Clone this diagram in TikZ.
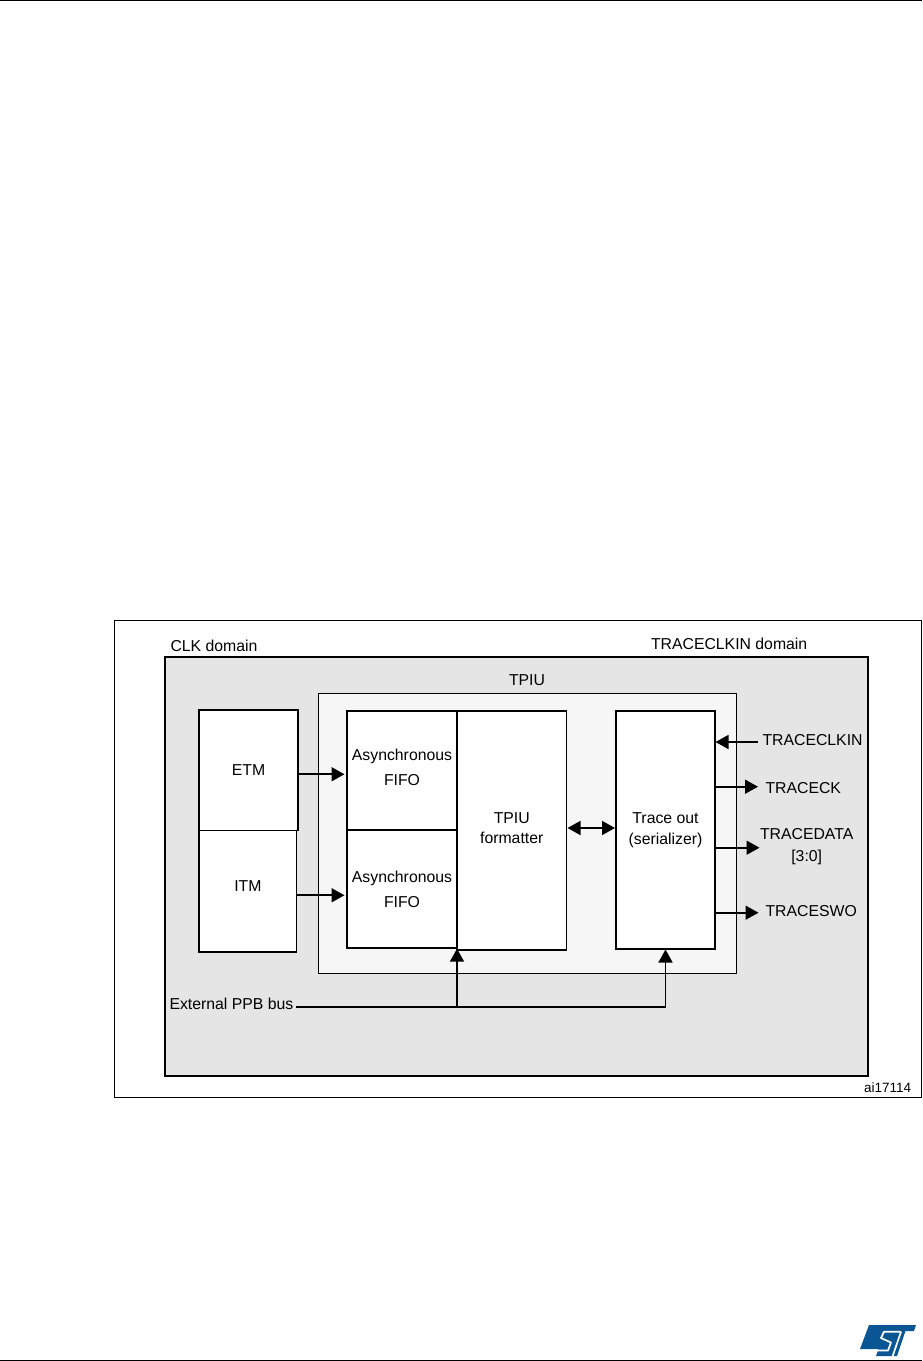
\documentclass[tikz,border=0pt]{standalone}
\usepackage{fontspec}
\setmainfont{Liberation Sans}
\usepackage{xcolor}
\usetikzlibrary{arrows.meta,positioning}
\definecolor{domaingray}{HTML}{E5E5E5}
\definecolor{tpiugray}{HTML}{F6F6F6}
\definecolor{stblue}{HTML}{0A5694}

\begin{document}
\begin{tikzpicture}[
  x=1pt, y=-1pt, font=\fontsize{15.8}{19}\selectfont,
  b/.style={draw, line width=1.5pt, fill=white, align=center, inner sep=0pt, outer sep=0pt, anchor=north west},
  area/.style={draw, inner sep=0pt, outer sep=0pt, anchor=north west},
  lbl/.style={inner sep=0pt, outer sep=0pt, align=center},
  pf/.style={line width=1.6pt, shorten >=0.5pt, -{Triangle[length=13pt,width=14pt]}}
]
\useasboundingbox (0,0) rectangle (922,1361);
\draw[line width=1pt] (0,0.5) -- (922,0.5);
\draw[line width=1pt] (0,1360) -- (922,1360);

\node[area, line width=0.8pt, minimum width=806.5pt, minimum height=477pt] (fig) at (114.5,620) {};
\node[area, line width=1.5pt, fill=domaingray, minimum width=703pt, minimum height=419pt] (clk) at (165,657) {};
\node[area, line width=0.7pt, fill=tpiugray, minimum width=418pt, minimum height=279.5pt] (tpiu) at (318.7,693.7) {};

\node[lbl, anchor=west] (clklbl) at (170.5,646) {CLK domain};
\node[lbl, anchor=west] (domlbl) at (651,644) {TRACECLKIN domain};
\node[lbl] (tpiulbl) at (527,680) {TPIU};

\node[b, minimum width=99pt, minimum height=120.5pt] (etm) at (199,710) {ETM};
\node[b, minimum width=97.7pt, minimum height=121.5pt, below=0pt of etm.south west, anchor=north west, text depth=11pt] (itm) {ITM};
\node[b, minimum width=110pt, minimum height=119pt] (fifoa) at (347,711) {Asynchronous\\[6pt]FIFO\\[-13pt]\mbox{}};
\node[b, minimum width=110pt, minimum height=118.2pt, below=0pt of fifoa.south west, anchor=north west] (fifob) {Asynchronous\\[6pt]FIFO};
\node[b, minimum width=109.5pt, minimum height=239pt, right=0pt of fifoa.north east, anchor=north west] (fmt) {TPIU\\[1pt]formatter\\[-14pt]\mbox{}};
\node[b, minimum width=99pt, minimum height=238pt] (trace) at (616,711) {Trace out\\[2pt](serializer)};

\node[lbl, anchor=west] (clkin) at (762.5,740) {TRACECLKIN};
\node[lbl, anchor=west] (ck) at (765.5,788) {TRACECK};
\node[lbl] (data) at (806.7,846.5) {TRACEDATA\\[3pt]{[3:0]}};
\node[lbl, anchor=west] (swo) at (765.5,911) {TRACESWO};
\node[lbl, anchor=west] (ppb) at (169.5,1004) {External PPB bus};
\node[lbl, anchor=west, font=\fontsize{13.5}{16}\selectfont] (ai) at (864,1088) {ai17114};

\draw[pf, shorten >=2.5pt] ([yshift=-4pt]etm.east) -- ([yshift=-4pt]etm.east -| fifoa.west);
\draw[pf, shorten >=2.5pt] ([yshift=-4pt]itm.east) -- ([yshift=-4pt]itm.east -| fifob.west);
\draw[pf, shorten <=1pt, shorten >=1pt, {Triangle[length=13pt,width=14pt]}-{Triangle[length=13pt,width=14pt]}] ([yshift=2.5pt]fmt.east) -- ([yshift=2.5pt]fmt.east -| trace.west);
\draw[pf] ([shift={(-4.5pt,-2pt)}]clkin.west) -- ([yshift=-2pt]clkin.west -| trace.east);
\draw[pf] ([yshift=1.3pt]ck.west -| trace.east) -- ([shift={(-7pt,1.3pt)}]ck.west);
\draw[pf] ([yshift=-17.7pt]trace.east) -- ([yshift=-17.7pt]trace.east -| data.west);
\draw[pf] ([yshift=-1.7pt]swo.west -| trace.east) -- ([shift={(-6.5pt,-1.7pt)}]swo.west);

\draw[pf] ([shift={(3pt,-2.7pt)}]ppb.east) -| (trace.south);
\draw[pf] ([yshift=-2.7pt]ppb.east -| fifob.south east) -- (fifob.south east);

% logo
\fill[stblue] (869,1325) -- (916,1325) -- (914,1331) -- (905.5,1331) -- (897,1356) -- (876,1356) -- (878.5,1349) -- (860,1349) -- cycle;
\draw[white, line width=1.7pt, line join=round] (901,1331.8) -- (884,1331.8) -- (881,1338) -- (891,1342.5) -- (888,1350.5) -- (873,1350.5);
\draw[white, line width=1.7pt] (901,1331.8) -- (892.5,1356.5);
\end{tikzpicture}
\end{document}
